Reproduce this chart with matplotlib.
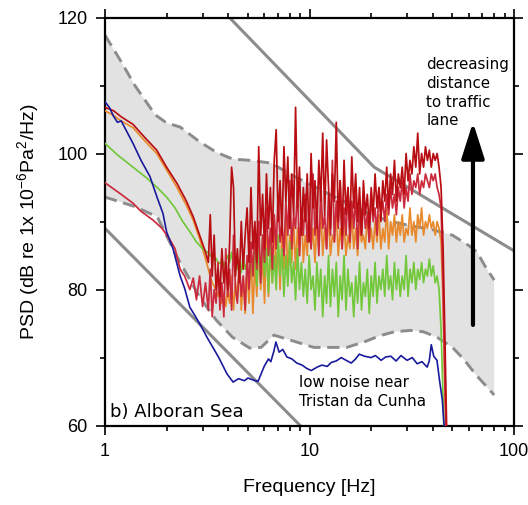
import numpy as np
import matplotlib
matplotlib.use("Agg")
import matplotlib.pyplot as plt
from matplotlib.ticker import LogLocator, NullFormatter, MultipleLocator, FixedLocator

plt.rcParams['font.family'] = ['Liberation Sans', 'DejaVu Sans']
plt.rcParams['mathtext.fontset'] = 'custom'
plt.rcParams['mathtext.rm'] = 'Liberation Sans'
plt.rcParams['mathtext.default'] = 'regular'

# ---- data ----
# shaded range (dashed bounds)
upper_f = [1, 1.2, 1.4, 1.76, 2.0, 2.33, 2.91, 3.5, 4.2, 5.1, 6.5, 8, 10, 14.2, 20, 25, 30, 40, 50, 60, 66, 72, 80]
upper_db = [117.4, 113.5, 110.0, 105.7, 104.5, 103.9, 101.7, 100.2, 99.2, 99.0, 98.6, 97.0, 95.5, 93.2, 91.0,
            90.0, 89.5, 88.8, 88.0, 86.5, 85.5, 83.5, 81.4]
lower_f = [1, 1.4, 1.8, 2.25, 2.9, 3.5, 4.2, 5.1, 5.8, 6.7, 8, 10.5, 15.2, 18.5, 22, 26, 31.3, 36, 42, 50, 57, 65, 80]
lower_db = [93.6, 92.2, 90.7, 84.8, 78.9, 75.5, 73.0, 71.4, 71.5, 73.3, 72.6, 71.5, 71.5, 72.3, 73.2, 73.8,
            74.0, 73.8, 73.0, 71.5, 69.7, 67.5, 64.5]

# solid reference lines
wenz_hi_f = [3.5, 20.7, 100]
wenz_hi_db = [122.0, 98.0, 85.7]
wenz_lo_f = [1, 9.5]
wenz_lo_db = [89.0, 59.3]

# low-frequency (smooth) parts of the spectra
smooth_f = [1, 1.1, 1.2, 1.37, 1.55, 1.79, 2.0, 2.25, 2.5, 2.7, 2.9, 3.1]
darkred_lo = [106.8, 106.3, 105.4, 104.3, 102.5, 100.5, 98.0, 95.6, 93.0, 90.7, 88.0, 85.5]
orange_lo = [106.3, 105.6, 104.8, 103.8, 102.0, 100.0, 97.6, 95.0, 92.4, 90.2, 87.5, 84.5]
green_f = [1, 1.15, 1.37, 1.6, 1.8, 2.0, 2.2, 2.4, 2.6, 2.8, 3.0, 3.15]
green_lo = [101.5, 99.8, 98.0, 96.4, 95.0, 93.6, 92.0, 90.0, 88.5, 87.0, 86.0, 85.5]
crimson_f = [1, 1.2, 1.37, 1.5, 1.72, 1.9, 2.08, 2.2, 2.33, 2.45, 2.6, 2.7, 2.8, 2.9, 3.0, 3.1]
crimson_lo = [95.7, 94.0, 92.7, 91.5, 90.2, 89.0, 87.3, 86.0, 83.0, 82.0, 80.0, 81.7, 78.5, 82.0, 77.5, 81.0]

# noisy band, 3.2 - 43 Hz
noise_f = np.geomspace(3.2, 43, 120)
darkred_hi = [
    84, 91, 82, 88, 80, 83, 79, 86, 81, 84,
    80, 87, 98, 95, 82, 86, 81, 90, 83, 88,
    92, 84, 95, 86, 90, 84, 101, 88, 94, 86,
    97, 89, 95, 87, 99, 103.5, 90, 96, 88, 101,
    93, 99.5, 89, 97, 91, 106.8, 92, 98, 88, 95,
    90, 97, 87, 100, 92, 96, 89, 99, 93, 103,
    91, 102, 95, 89, 97, 93, 104.6, 90, 96, 88,
    99, 91, 95, 89, 99.5, 92, 97, 90, 95, 88,
    96, 91, 94, 89, 95, 91, 97, 92, 95, 90,
    96, 93, 98, 92, 97, 94, 99, 93, 97, 95,
    98, 94, 100, 96, 99, 97, 101, 98, 103, 97,
    100, 98, 101, 99, 100.5, 98, 100, 99, 100, 98]
crimson_hi = [
    77, 83, 76, 80, 78, 84, 77, 81, 76, 86,
    79, 83, 77, 88, 80, 78, 84, 79, 82, 77,
    85, 80, 87, 82, 89, 83, 90, 81, 88, 84,
    92, 85, 89, 83, 91, 86, 94, 87, 90, 85,
    93, 88, 96, 86, 91, 89, 95, 85, 92, 88,
    94, 87, 91, 86, 97, 88, 92, 85, 95, 89,
    91, 86, 94, 88, 99, 87, 93, 89, 96, 86,
    92, 88, 95, 87, 93, 89, 94, 86, 92, 88,
    93, 89, 91, 87, 94, 90, 92, 88, 95, 91,
    93, 90, 94, 91, 95, 92, 94, 91, 95, 93,
    96, 92, 95, 93, 97, 94, 96, 95, 97, 94,
    96, 95, 97, 96, 95, 97, 96, 97, 95, 94]
orange_hi = [
    83, 82, 81, 80.5, 80, 79, 80, 78, 79.5, 77.5,
    80, 78, 82, 77, 81, 79, 84, 77, 82, 76.5,
    83, 78, 86, 76.5, 84, 79, 87, 80, 85, 78,
    88, 79, 86, 81, 90, 82, 87, 80, 89, 83,
    91, 82, 88, 84, 90, 83, 89, 85, 92, 84,
    88, 85, 91, 86, 89, 84, 90, 86, 92, 85,
    89, 86, 91, 85, 88, 87, 92, 85, 89, 86,
    90, 85, 88, 86, 91, 86, 89, 85, 90, 87,
    88, 86, 91, 87, 89, 86, 90, 87, 91, 86,
    89, 87, 92, 86, 90, 88, 91, 87, 90, 88,
    91, 87, 89, 88, 92, 88, 90, 87, 91, 89,
    92, 88, 90, 89, 91, 89, 90, 88, 90, 89]
green_hi = [
    85.5, 85, 84.8, 84.3, 84.6, 84, 83.8, 84.5, 83.5, 84.2,
    85, 84, 85.5, 83.5, 84.8, 83, 84.5, 82.5, 85, 83,
    84, 81.5, 85.5, 82, 86, 80.5, 87, 81, 88, 82,
    86, 79.5, 87.5, 81, 85, 80, 88, 82, 86, 79,
    85, 80.5, 87, 81, 84, 78.5, 86, 80, 84, 79,
    83, 78, 85, 80, 82, 77, 84, 79, 83, 76,
    82, 78, 85, 77.5, 83, 79, 84, 76, 82, 78.5,
    85, 77, 83, 79, 81, 76, 82, 78, 84, 77,
    81, 79, 83, 76.5, 82, 79, 84, 78, 82, 80,
    83, 79, 85, 80, 82, 78.5, 84, 80, 83, 79,
    82, 80, 85, 79, 83, 81, 84, 80, 83, 81.5,
    84, 81, 83, 82, 84.5, 82, 83.5, 81, 82, 80]

# roll-off above ~43 Hz
tail_f = [44.0, 45.0, 46.0, 47.5]
darkred_tail = [95, 86, 72, 50]
crimson_tail = [92, 80, 65, 50]
orange_tail = [87, 78, 64, 50]
green_tail = [74, 64, 54, 45]

# quiet reference site
blue_f = [1, 1.05, 1.1, 1.15, 1.2, 1.37, 1.5, 1.66, 1.8, 1.92, 2.0, 2.15, 2.33, 2.45, 2.6,
          2.8, 3.0, 3.15, 3.37, 3.6, 3.95, 4.23, 4.5, 4.8, 5.0, 5.3, 5.6, 6.0, 6.3, 6.47,
          6.7, 6.85, 7.1, 7.4, 7.75, 8.2, 8.66, 9.2, 9.7, 10.2, 10.9, 11.5, 12.2, 12.8, 13.5,
          14.3, 15.1, 16.0, 16.8, 17.5, 18.6, 20.0, 21.0, 22.4, 23.6, 25.0, 26.5, 28.0, 30.0,
          31.8, 33.6, 35.5, 37.6, 38.5, 39.4, 40.5, 42.0, 43.3, 44.6, 45.5, 46.2]
blue_db = [107.6, 106.8, 105.5, 104.6, 104.8, 101.5, 99.0, 96.6, 93.5, 91.2, 88.5, 86.0, 82.0, 80.2, 77.4,
           75.8, 74.2, 73.0, 71.5, 70.0, 67.6, 66.4, 66.9, 66.6, 67.0, 66.7, 66.5, 68.7, 69.8, 69.4,
           71.0, 72.3, 70.8, 71.2, 70.1, 69.8, 69.2, 68.9, 68.4, 68.1, 68.6, 68.9, 68.7, 69.3, 69.5,
           70.0, 69.6, 69.2, 69.8, 70.5, 70.2, 70.0, 70.3, 69.6, 70.1, 70.2, 69.5, 70.3, 69.6,
           70.0, 69.1, 69.4, 68.6, 69.5, 71.9, 70.2, 69.6, 66.5, 63.8, 60.0, 55.0]


def series(f_lo, db_lo, db_hi, db_tail):
    f = np.concatenate([f_lo, noise_f, tail_f])
    db = np.concatenate([db_lo, db_hi, db_tail])
    return f, db


fig = plt.figure(figsize=(5.28, 5.05), dpi=100)
ax = fig.add_axes([0.1989, 0.1572, 0.7746, 0.8081])

gray = '#8c8c8c'
ax.fill(np.r_[upper_f, lower_f[::-1]], np.r_[upper_db, lower_db[::-1]],
        color='#e2e2e2', lw=0, zorder=1)
ax.plot(upper_f, upper_db, color=gray, lw=2.1, dashes=(4.2, 2.3), zorder=2)
ax.plot(lower_f, lower_db, color=gray, lw=2.1, dashes=(4.2, 2.3), zorder=2)
ax.plot(wenz_hi_f, wenz_hi_db, color=gray, lw=2.2, zorder=2)
ax.plot(wenz_lo_f, wenz_lo_db, color=gray, lw=2.2, zorder=2)

ax.plot(*series(smooth_f, orange_lo, orange_hi, orange_tail), color='#e8892c', lw=1.25, zorder=3)
ax.plot(*series(green_f, green_lo, green_hi, green_tail), color='#72c83a', lw=1.25, zorder=4)
ax.plot(*series(crimson_f, crimson_lo, crimson_hi, crimson_tail), color='#cc2a3c', lw=1.25, zorder=5)
ax.plot(*series(smooth_f, darkred_lo, darkred_hi, darkred_tail), color='#b80d12', lw=1.25, zorder=6)
ax.plot(blue_f, blue_db, color='#1a1a9c', lw=1.2, zorder=7)

ax.annotate('', xy=(63, 104.6), xytext=(63, 74.8),
            arrowprops=dict(arrowstyle='-|>,head_length=1.1,head_width=0.35', lw=3,
                            color='black', mutation_scale=20, shrinkA=0, shrinkB=0), zorder=8)

ax.text(37.2, 114.2, 'decreasing\ndistance\nto traffic\nlane', family='DejaVu Sans',
        fontsize=10.8, va='top', ha='left', linespacing=1.32, zorder=9)
ax.text(8.9, 67.4, 'low noise near\nTristan da Cunha', family='DejaVu Sans',
        fontsize=10.8, va='top', ha='left', linespacing=1.28, zorder=9)
ax.text(1.057, 61.2, 'b) Alboran Sea', family='DejaVu Sans', fontsize=13,
        va='baseline', ha='left', zorder=9)

ax.set_xscale('log')
ax.set_xlim(1, 100)
ax.set_ylim(60, 120)
ax.xaxis.set_major_locator(FixedLocator([1, 10, 100]))
ax.xaxis.set_major_formatter(matplotlib.ticker.FixedFormatter(['1', '10', '100']))
ax.xaxis.set_minor_locator(LogLocator(base=10, subs=np.arange(2, 10)))
ax.xaxis.set_minor_formatter(NullFormatter())
ax.yaxis.set_major_locator(MultipleLocator(20))
ax.yaxis.set_minor_locator(MultipleLocator(10))

ax.tick_params(which='both', direction='out', top=True, right=True, width=1.2, labelsize=13, pad=6)
ax.tick_params(which='major', length=6.5)
ax.tick_params(which='minor', length=3.5)
for s in ax.spines.values():
    s.set_linewidth(1.6)

ax.set_xlabel('Frequency [Hz]', fontsize=14, labelpad=14)
ax.set_ylabel('PSD (dB re 1x 10$^{-6}$Pa$^{2}$/Hz)', fontsize=14, labelpad=12)

fig.savefig('out.png', dpi=100)
